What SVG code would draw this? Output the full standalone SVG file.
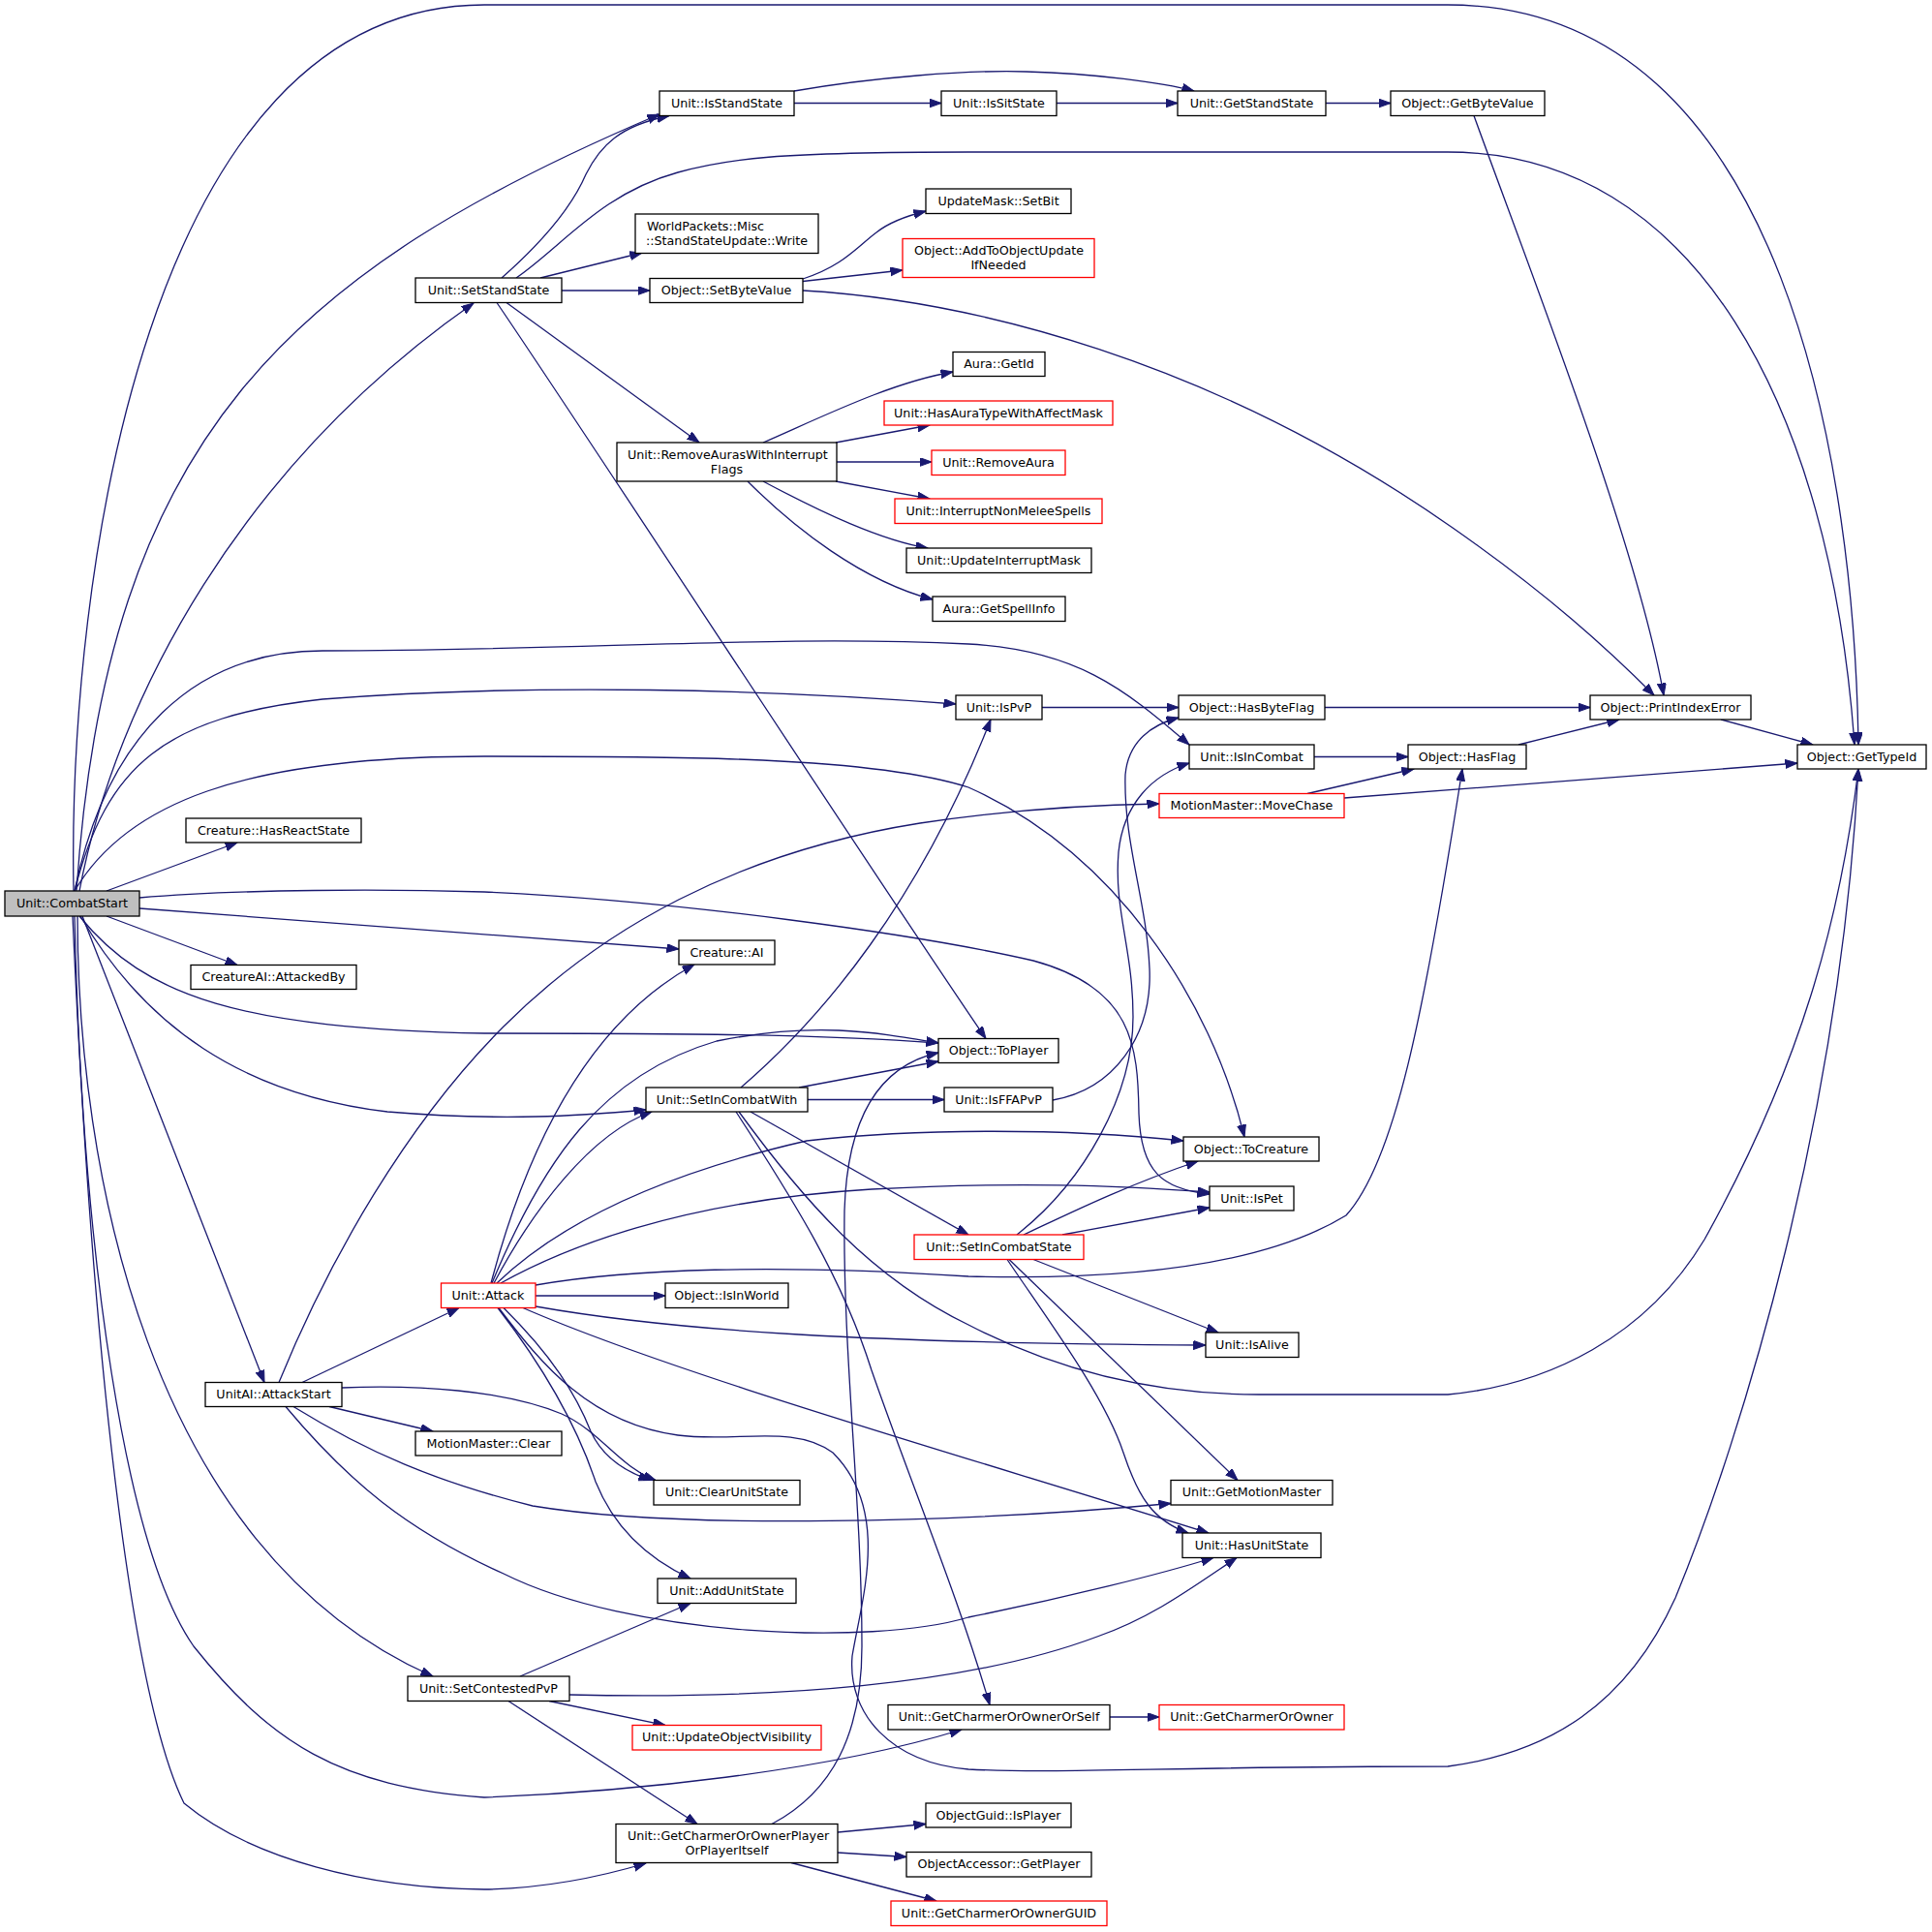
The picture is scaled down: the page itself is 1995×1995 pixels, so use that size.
<svg xmlns="http://www.w3.org/2000/svg" width="1995" height="1995" viewBox="0 0 1995 1995">
<style>
.n rect{fill:#ffffff;stroke:#000000;stroke-width:1.3}
.n.r rect{stroke:#ff0000}
.n.m rect{fill:#bfbfbf}
.n text{font-family:"DejaVu Sans",Verdana,sans-serif;font-size:12.7px;fill:#000000}
.c{text-anchor:middle}
.s{text-anchor:start}
#edges path{fill:none;stroke:#191970;stroke-width:1.3;marker-end:url(#ah)}
</style>
<defs>
<marker id="ah" markerWidth="14" markerHeight="10" refX="12.5" refY="4.5" orient="auto" markerUnits="userSpaceOnUse">
<path d="M0,0 L12.5,4.5 L0,9 z" fill="#191970" stroke="#191970" stroke-width="1"/>
</marker>
</defs>
<rect x="0" y="0" width="1995" height="1995" fill="#ffffff"/>
<g id="edges">
<path d="M76,920 C 70,600 150,5 500,5 L 1495,5 C 1850,5 1915,500 1919,769"/>
<path d="M79,920 C 110,450 300,280 681,118"/>
<path d="M82,920 C 120,720 250,480 489,313"/>
<path d="M77,920 C 110,760 200,672 333,672 C 600,672 800,655 1000,665 C 1110,671 1160,710 1228,769"/>
<path d="M77,920 C 110,790 170,740 333,722 C 550,705 800,712 987,727"/>
<path d="M77,920 C 130,830 250,781 500,781 C 700,781 900,781 1000,813 C 1150,880 1250,1030 1285,1174"/>
<path d="M110,920 L245,870"/>
<path d="M110,946 L245,996.5"/>
<path d="M144,938 L701,980"/>
<path d="M144,927 C 250,918 400,918 500,921 C 700,930 950,965 1067,992 C 1170,1020 1175,1080 1176,1150 C 1178,1210 1200,1228 1249,1233"/>
<path d="M82,946 C 150,1030 250,1062 500,1067 C 700,1067 850,1068 969,1077"/>
<path d="M83,946 C 150,1060 250,1130 400,1148 C 520,1158 600,1152 667,1146"/>
<path d="M85,946 L273,1427.5"/>
<path d="M80,946 C 80,1200 150,1600 447,1731"/>
<path d="M77,946 C 85,1300 130,1600 200,1700 C 280,1800 350,1845 500,1856 C 650,1850 850,1830 993,1786"/>
<path d="M75,946 C 95,1400 135,1750 190,1862 C 260,1920 380,1950 500,1951 C 560,1950 620,1938 667,1924"/>
<path d="M518,287 C 560,250 590,215 605,180 C 620,150 640,130 691,119.5"/>
<path d="M533,287 C 580,255 620,200 700,178 C 750,164 800,157 1000,157 L 1495,157 C 1750,157 1890,420 1915,769"/>
<path d="M558,287 L663,261"/>
<path d="M580,300 L671,300"/>
<path d="M523,312.5 L722,457"/>
<path d="M513,312.5 C 600,440 900,900 1018,1072.5"/>
<path d="M829,288 C 870,275 885,255 905,240 C 920,228 940,222 956,218"/>
<path d="M829,290.5 L932,279"/>
<path d="M829,300 C 1000,310 1250,370 1500,545 C 1600,615 1660,670 1708,718"/>
<path d="M788,457 C 850,430 920,395 984,384"/>
<path d="M863,457 L960,439"/>
<path d="M864,477 L962,477"/>
<path d="M863,497 L960,515"/>
<path d="M788,497 C 850,530 910,558 958,566"/>
<path d="M772,497 C 820,545 890,600 963,619"/>
<path d="M820,106.5 L972,106.5"/>
<path d="M820,94 C 900,80 1000,72 1060,74 C 1130,76 1200,85 1233,94"/>
<path d="M1091,106.5 L1216,106.5"/>
<path d="M1369,106.5 L1436,106.5"/>
<path d="M1522,119.5 C 1580,280 1690,560 1718,718"/>
<path d="M1368,730.5 L1642,730.5"/>
<path d="M1357,781.5 L1454,781.5"/>
<path d="M1568,769 L1672,743"/>
<path d="M1777,743 L1872,769"/>
<path d="M1350,819.5 L1460,794"/>
<path d="M1388,824 L1856,788"/>
<path d="M1076,730.5 L1217,730.5"/>
<path d="M1087,1136 C 1150,1125 1190,1070 1187,1000 C 1184,930 1160,870 1162,800 C 1165,765 1190,748 1217,741"/>
<path d="M1050,1275 C 1120,1220 1170,1130 1170,1050 C 1170,980 1150,940 1155,880 C 1160,830 1190,800 1228,788"/>
<path d="M1057,1275 C 1100,1255 1160,1225 1237,1199"/>
<path d="M1097,1275 L1249,1247"/>
<path d="M1067,1300.5 L1258,1376"/>
<path d="M1042,1300.5 L1278,1528.5"/>
<path d="M1040,1300.5 C 1080,1360 1140,1440 1160,1500 C 1175,1545 1190,1570 1227,1583"/>
<path d="M765,1123 C 850,1050 950,930 1023,743"/>
<path d="M825,1123 L969,1096"/>
<path d="M834,1135.5 L975,1135.5"/>
<path d="M775,1148 L1000,1275"/>
<path d="M760,1148 C 820,1240 870,1320 900,1415 C 940,1530 990,1650 1022,1760.5"/>
<path d="M763,1148 C 830,1240 900,1320 1000,1368 C 1100,1420 1200,1440 1300,1440 L 1495,1440 C 1600,1430 1700,1380 1760,1280 C 1860,1100 1900,950 1919,794"/>
<path d="M797,1883.5 C 860,1850 890,1790 890,1700 C 890,1550 870,1400 872,1250 C 875,1150 910,1100 969,1087"/>
<path d="M865,1892 L956,1883.5"/>
<path d="M865,1913 L936,1917.5"/>
<path d="M817,1923.5 L967,1963"/>
<path d="M1146,1773 L1197,1773"/>
<path d="M537,1731 L713,1655.5"/>
<path d="M588,1750 C 800,1755 1000,1740 1133,1690 C 1190,1670 1230,1640 1277,1608.5"/>
<path d="M567,1756.5 L687,1781.5"/>
<path d="M525,1756.5 L720,1883.5"/>
<path d="M312,1427.5 L474,1350.5"/>
<path d="M288,1427.5 C 340,1300 420,1160 520,1060 C 620,960 760,880 950,850 C 1050,835 1130,831 1197,830"/>
<path d="M340,1452.5 L447,1478"/>
<path d="M353,1433 C 430,1430 520,1435 580,1460 C 620,1478 640,1515 677,1528.5"/>
<path d="M303,1452.5 C 380,1500 450,1530 550,1555 C 700,1580 1000,1572 1209,1552.5"/>
<path d="M295,1452.5 C 360,1530 420,1580 520,1625 C 650,1690 900,1700 1000,1670 C 1100,1650 1200,1625 1253,1608.5"/>
<path d="M553,1338 L687,1338"/>
<path d="M507,1325 C 540,1200 600,1060 717,996"/>
<path d="M508,1325 C 560,1200 620,1110 740,1075 C 840,1055 900,1065 969,1077"/>
<path d="M510,1325 C 550,1250 610,1170 673,1148"/>
<path d="M513,1325 C 560,1280 650,1220 833,1178 C 950,1165 1100,1165 1222,1178"/>
<path d="M517,1325 C 580,1290 700,1240 900,1228 C 1050,1220 1150,1224 1249,1231"/>
<path d="M553,1327 C 650,1310 800,1305 1000,1318 C 1150,1322 1300,1310 1390,1255 C 1440,1200 1470,1050 1510,794"/>
<path d="M553,1349 C 700,1375 900,1387 1245,1389"/>
<path d="M540,1350.5 C 700,1420 1000,1505 1248,1583"/>
<path d="M520,1350.5 C 570,1400 595,1440 610,1478 C 620,1500 640,1518 672,1528.5"/>
<path d="M514,1350.5 C 560,1410 595,1470 615,1530 C 635,1580 670,1610 713,1630"/>
<path d="M515,1350.5 C 560,1410 610,1470 700,1482 C 760,1490 820,1470 860,1500 C 920,1560 890,1650 880,1710 C 875,1770 920,1820 1000,1827 C 1100,1832 1200,1824 1495,1824 C 1600,1810 1680,1760 1730,1650 C 1800,1480 1900,1150 1919,794"/>
</g>
<g id="n1" class="n m"><rect x="5" y="920" width="139" height="26"/><text class="c" x="74.5" y="937">Unit::CombatStart</text></g>
<g id="n2" class="n"><rect x="192" y="845" width="181" height="25"/><text class="c" x="282.5" y="861.5">Creature::HasReactState</text></g>
<g id="n3" class="n"><rect x="197" y="996.5" width="171" height="25"/><text class="c" x="282.5" y="1013">CreatureAI::AttackedBy</text></g>
<g id="n4" class="n"><rect x="701" y="971" width="99" height="25"/><text class="c" x="750.5" y="987.5">Creature::AI</text></g>
<g id="n5" class="n"><rect x="429" y="287" width="151" height="25.5"/><text class="c" x="504.5" y="304">Unit::SetStandState</text></g>
<g id="n6" class="n"><rect x="681" y="94" width="139" height="25.5"/><text class="c" x="750.5" y="110.5">Unit::IsStandState</text></g>
<g id="n7" class="n"><rect x="972" y="94" width="119" height="25.5"/><text class="c" x="1031.5" y="110.5">Unit::IsSitState</text></g>
<g id="n8" class="n"><rect x="1216" y="94" width="153" height="25.5"/><text class="c" x="1292.5" y="110.5">Unit::GetStandState</text></g>
<g id="n9" class="n"><rect x="1436" y="94" width="159" height="25.5"/><text class="c" x="1515.5" y="110.5">Object::GetByteValue</text></g>
<g id="n10" class="n"><rect x="656" y="221" width="189" height="40.5"/><text class="s" x="668" y="238">WorldPackets::Misc</text><text class="c" x="750.5" y="253">::StandStateUpdate::Write</text></g>
<g id="n11" class="n"><rect x="671" y="287.5" width="158" height="25"/><text class="c" x="750" y="304">Object::SetByteValue</text></g>
<g id="n12" class="n"><rect x="956" y="195" width="150" height="25.5"/><text class="c" x="1031" y="211.5">UpdateMask::SetBit</text></g>
<g id="n13" class="n r"><rect x="932" y="246.5" width="198" height="40"/><text class="s" x="944" y="263">Object::AddToObjectUpdate</text><text class="c" x="1031" y="278">IfNeeded</text></g>
<g id="n14" class="n"><rect x="637" y="457" width="227" height="40"/><text class="s" x="648" y="473.5">Unit::RemoveAurasWithInterrupt</text><text class="c" x="750.5" y="488.5">Flags</text></g>
<g id="n15" class="n"><rect x="984" y="363.5" width="95" height="25"/><text class="c" x="1031.5" y="380">Aura::GetId</text></g>
<g id="n16" class="n r"><rect x="913" y="414" width="236" height="25"/><text class="c" x="1031" y="430.5">Unit::HasAuraTypeWithAffectMask</text></g>
<g id="n17" class="n r"><rect x="962" y="465" width="138" height="25.5"/><text class="c" x="1031" y="481.5">Unit::RemoveAura</text></g>
<g id="n18" class="n r"><rect x="924" y="515" width="214" height="25.5"/><text class="c" x="1031" y="531.5">Unit::InterruptNonMeleeSpells</text></g>
<g id="n19" class="n"><rect x="936" y="566" width="191" height="25.5"/><text class="c" x="1031.5" y="582.5">Unit::UpdateInterruptMask</text></g>
<g id="n20" class="n"><rect x="963" y="616" width="137" height="25.5"/><text class="c" x="1031.5" y="633">Aura::GetSpellInfo</text></g>
<g id="n21" class="n"><rect x="987" y="718" width="89" height="25"/><text class="c" x="1031.5" y="734.5">Unit::IsPvP</text></g>
<g id="n22" class="n"><rect x="1217" y="718" width="151" height="25"/><text class="c" x="1292.5" y="734.5">Object::HasByteFlag</text></g>
<g id="n23" class="n"><rect x="1642" y="718" width="166" height="25"/><text class="c" x="1725" y="734.5">Object::PrintIndexError</text></g>
<g id="n24" class="n"><rect x="1228" y="769" width="129" height="25"/><text class="c" x="1292.5" y="785.5">Unit::IsInCombat</text></g>
<g id="n25" class="n"><rect x="1454" y="769" width="122" height="25"/><text class="c" x="1515" y="785.5">Object::HasFlag</text></g>
<g id="n26" class="n"><rect x="1856" y="769" width="133" height="25"/><text class="c" x="1922.5" y="785.5">Object::GetTypeId</text></g>
<g id="n27" class="n r"><rect x="1197" y="819.5" width="191" height="25"/><text class="c" x="1292.5" y="836">MotionMaster::MoveChase</text></g>
<g id="n28" class="n"><rect x="969" y="1072.5" width="124" height="25"/><text class="c" x="1031" y="1089">Object::ToPlayer</text></g>
<g id="n29" class="n"><rect x="667" y="1123" width="167" height="25"/><text class="c" x="750.5" y="1139.5">Unit::SetInCombatWith</text></g>
<g id="n30" class="n"><rect x="975" y="1123" width="112" height="25"/><text class="c" x="1031" y="1139.5">Unit::IsFFAPvP</text></g>
<g id="n31" class="n"><rect x="1222" y="1174" width="140" height="25"/><text class="c" x="1292" y="1190.5">Object::ToCreature</text></g>
<g id="n32" class="n"><rect x="1249" y="1225" width="87" height="25"/><text class="c" x="1292.5" y="1241.5">Unit::IsPet</text></g>
<g id="n33" class="n r"><rect x="944" y="1275" width="175" height="25.5"/><text class="c" x="1031.5" y="1291.5">Unit::SetInCombatState</text></g>
<g id="n34" class="n r"><rect x="455.5" y="1325" width="97.5" height="25.5"/><text class="c" x="504" y="1341.5">Unit::Attack</text></g>
<g id="n35" class="n"><rect x="687" y="1325" width="127" height="25.5"/><text class="c" x="750.5" y="1341.5">Object::IsInWorld</text></g>
<g id="n36" class="n"><rect x="1245" y="1376" width="96" height="25.5"/><text class="c" x="1293" y="1392.5">Unit::IsAlive</text></g>
<g id="n37" class="n"><rect x="212" y="1427.5" width="141" height="25"/><text class="c" x="282.5" y="1444">UnitAI::AttackStart</text></g>
<g id="n38" class="n"><rect x="429" y="1478" width="151" height="25"/><text class="c" x="504.5" y="1494.5">MotionMaster::Clear</text></g>
<g id="n39" class="n"><rect x="675" y="1528.5" width="151" height="25.5"/><text class="c" x="750.5" y="1545">Unit::ClearUnitState</text></g>
<g id="n40" class="n"><rect x="1209" y="1528.5" width="167" height="25.5"/><text class="c" x="1292.5" y="1545">Unit::GetMotionMaster</text></g>
<g id="n41" class="n"><rect x="1221" y="1583" width="143" height="25.5"/><text class="c" x="1292.5" y="1600">Unit::HasUnitState</text></g>
<g id="n42" class="n"><rect x="679" y="1630" width="143" height="25.5"/><text class="c" x="750.5" y="1646.5">Unit::AddUnitState</text></g>
<g id="n43" class="n"><rect x="421" y="1731" width="167" height="25.5"/><text class="c" x="504.5" y="1748">Unit::SetContestedPvP</text></g>
<g id="n44" class="n r"><rect x="653" y="1781.5" width="195" height="25.5"/><text class="c" x="750.5" y="1798">Unit::UpdateObjectVisibility</text></g>
<g id="n45" class="n"><rect x="917" y="1760.5" width="229" height="25.5"/><text class="c" x="1031.5" y="1777">Unit::GetCharmerOrOwnerOrSelf</text></g>
<g id="n46" class="n r"><rect x="1197" y="1760.5" width="191" height="25.5"/><text class="c" x="1292.5" y="1777">Unit::GetCharmerOrOwner</text></g>
<g id="n47" class="n"><rect x="636" y="1883.5" width="229" height="40"/><text class="s" x="648" y="1900">Unit::GetCharmerOrOwnerPlayer</text><text class="c" x="750.5" y="1915">OrPlayerItself</text></g>
<g id="n48" class="n"><rect x="956" y="1862" width="150" height="25"/><text class="c" x="1031" y="1878.5">ObjectGuid::IsPlayer</text></g>
<g id="n49" class="n"><rect x="936" y="1912.5" width="191" height="25.5"/><text class="c" x="1031.5" y="1929">ObjectAccessor::GetPlayer</text></g>
<g id="n50" class="n r"><rect x="920" y="1963" width="223" height="25.5"/><text class="c" x="1031.5" y="1979.5">Unit::GetCharmerOrOwnerGUID</text></g>
</svg>
